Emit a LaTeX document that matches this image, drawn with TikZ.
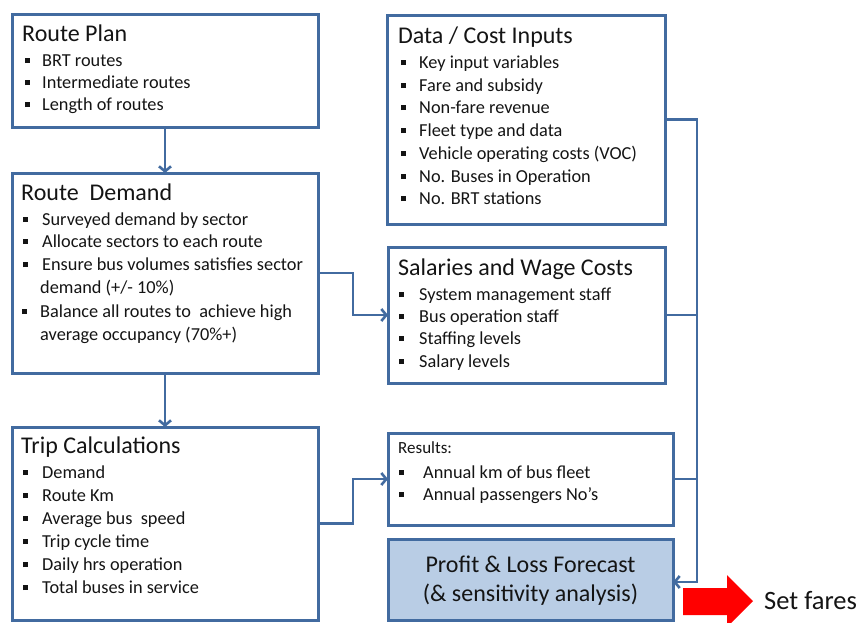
\documentclass[tikz,border=0pt]{standalone}
\usepackage{fontspec}
\setmainfont{Carlito}
\usetikzlibrary{arrows.meta}
\definecolor{bblue}{RGB}{66,107,160}
\definecolor{plfill}{RGB}{185,205,229}
\definecolor{txtc}{RGB}{20,20,20}
\newcommand{\bsq}{\rule[0.16em]{5pt}{5pt}}
\begin{document}
\begin{tikzpicture}[x=1pt,y=-1pt,
  box/.style={draw=bblue, line width=3pt, inner sep=0pt, outer sep=0pt, rectangle},
  ttl/.style={anchor=base west, inner sep=0pt, text=txtc, font=\fontsize{24}{28}\selectfont},
  itm/.style={anchor=base west, inner sep=0pt, text=txtc, font=\fontsize{18.3}{22}\selectfont},
  conn/.style={draw=bblue, line width=2.6pt},
  arr/.style={conn, -{Straight Barb[length=5pt,width=12pt,line width=2.6pt]}}]
\useasboundingbox (0,0) rectangle (858,622);

% boxes
\node[box, minimum width=306pt, minimum height=113pt] (rp) at (165,70.5) {};
\node[box, minimum width=306pt, minimum height=200pt] (rd) at (165,273) {};
\node[box, minimum width=306pt, minimum height=193pt] (tc) at (165,523.5) {};
\node[box, minimum width=278pt, minimum height=209pt] (dc) at (526,119.5) {};
\node[box, minimum width=277pt, minimum height=136pt] (sal) at (526.5,315) {};
\node[box, minimum width=285pt, minimum height=92pt] (res) at (530.5,479) {};
\node[box, fill=plfill, minimum width=285pt, minimum height=81pt] (pl) at (530.5,579.5) {};

% Route Plan
\node[ttl] (rpT) at (22,41) {Route Plan};
\node[itm] (rp1) at (25,66) {\makebox[17pt][l]{\bsq}BRT routes};
\node[itm] (rp2) at (25,88) {\makebox[17pt][l]{\bsq}Intermediate routes};
\node[itm] (rp3) at (25,110) {\makebox[17pt][l]{\bsq}Length of routes};

% Route Demand
\node[ttl] (rdT) at (21,200) {Route\ \ Demand};
\node[itm] (rd1) at (23,225) {\makebox[19pt][l]{\bsq}Surveyed demand by sector};
\node[itm] (rd2) at (23,247) {\makebox[19pt][l]{\bsq}Allocate sectors to each route};
\node[itm] (rd3) at (23,270) {\makebox[19pt][l]{\bsq}Ensure bus volumes satisfies sector};
\node[itm] (rd4) at (40,293) {demand (+/- 10\%)};
\node[itm] (rd5) at (22,317) {\makebox[18pt][l]{\bsq}Balance all routes to\ \ achieve high};
\node[itm] (rd6) at (40,340) {average occupancy (70\%+)};

% Trip Calculations
\node[ttl] (tcT) at (21,453) {Trip Calculations};
\node[itm] (tc1) at (23,478) {\makebox[19pt][l]{\bsq}Demand};
\node[itm] (tc2) at (23,501) {\makebox[19pt][l]{\bsq}Route Km};
\node[itm] (tc3) at (23,524) {\makebox[19pt][l]{\bsq}Average bus\ \ speed};
\node[itm] (tc4) at (23,547) {\makebox[19pt][l]{\bsq}Trip cycle time};
\node[itm] (tc5) at (23,570) {\makebox[19pt][l]{\bsq}Daily hrs operation};
\node[itm] (tc6) at (23,593) {\makebox[19pt][l]{\bsq}Total buses in service};

% Data / Cost Inputs
\node[ttl] (dcT) at (398,43) {Data / Cost Inputs};
\node[itm] (dc1) at (401,68) {\makebox[18pt][l]{\bsq}Key input variables};
\node[itm] (dc2) at (401,91) {\makebox[18pt][l]{\bsq}Fare and subsidy};
\node[itm] (dc3) at (401,113) {\makebox[18pt][l]{\bsq}Non-fare revenue};
\node[itm] (dc4) at (401,136) {\makebox[18pt][l]{\bsq}Fleet type and data};
\node[itm] (dc5) at (401,159) {\makebox[18pt][l]{\bsq}Vehicle operating costs (VOC)};
\node[itm] (dc6) at (401,182) {\makebox[18pt][l]{\bsq}No. Buses in Operation};
\node[itm] (dc7) at (401,204) {\makebox[18pt][l]{\bsq}No. BRT stations};

% Salaries
\node[ttl] (salT) at (398,275) {Salaries and Wage Costs};
\node[itm] (sal1) at (399,300) {\makebox[20pt][l]{\bsq}System management staff};
\node[itm] (sal2) at (399,322) {\makebox[20pt][l]{\bsq}Bus operation staff};
\node[itm] (sal3) at (399,344) {\makebox[20pt][l]{\bsq}Staffing levels};
\node[itm] (sal4) at (399,367) {\makebox[20pt][l]{\bsq}Salary levels};

% Results
\node[anchor=base west, inner sep=0pt, text=txtc, font=\fontsize{17}{20}\selectfont] (resT) at (398,453) {Results:};
\node[itm] (res1) at (399,478) {\makebox[24pt][l]{\bsq}Annual km of bus fleet};
\node[itm] (res2) at (399,500) {\makebox[24pt][l]{\bsq}Annual passengers No's};

% Profit & Loss
\node[anchor=base, inner sep=0pt, text=txtc, font=\fontsize{24}{28}\selectfont] (pl1) at (530.5,572) {Profit \& Loss Forecast};
\node[anchor=base, inner sep=0pt, text=txtc, font=\fontsize{24}{28}\selectfont] (pl2) at (530.5,601) {(\& sensitivity analysis)};

% Set fares
\node[anchor=base west, inner sep=0pt, text=txtc, font=\fontsize{26.5}{30}\selectfont] (sf) at (764,609) {Set fares};
\fill[red] (683,588) -- (727,588) -- (727,575) -- (753,601) -- (727,627) -- (727,615) -- (683,615) -- cycle;

% connectors
\draw[arr] (rp.south) -- (rd.north);
\draw[arr] (rd.south) -- (tc.north);
\draw[arr] (rd.east) -- ++(35,0) |- (sal.west);
\draw[arr] (tc.east) -- ++(35,0) |- (res.west);
\coordinate (bus) at (697,0);
\draw[arr] (dc.east) -| ([yshift=-2.5pt]bus |- pl.east) -- ([yshift=-2.5pt]pl.east);
\draw[conn] (sal.east) -- (sal.east -| bus);
\draw[conn] (res.east) -- (res.east -| bus);
\end{tikzpicture}
\end{document}
